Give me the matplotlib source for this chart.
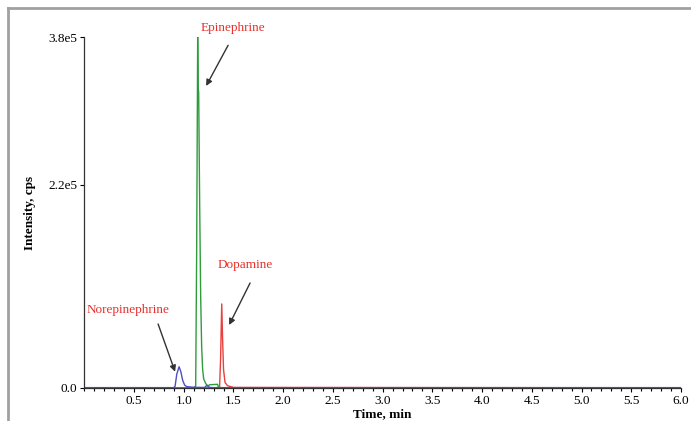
import matplotlib.pyplot as plt
from matplotlib.lines import Line2D
from matplotlib.ticker import MultipleLocator

plt.rcParams['font.family'] = ['Liberation Serif', 'DejaVu Serif']

# retention time (min) / intensity (cps)
epi_t = [0.0, 1.10, 1.12, 1.13, 1.14, 1.145, 1.15, 1.16, 1.17, 1.18, 1.19, 1.20,
         1.22, 1.24, 1.26, 1.34, 1.35, 1.40, 6.0]
epi_i = [300, 300, 2000, 150000, 380000, 325000, 320000, 200000, 100000, 45000,
         20000, 10000, 5000, 2000, 3500, 4000, 500, 300, 300]

dopa_t = [0.0, 1.36, 1.37, 1.382, 1.39, 1.40, 1.415, 1.44, 1.50, 4.0, 6.0]
dopa_i = [300, 300, 30000, 91000, 55000, 20000, 6000, 2500, 600, 400, 300]

nor_t = [0.0, 0.90, 0.913, 0.93, 0.953, 0.97, 0.99, 1.01, 1.03, 1.10, 1.21,
         1.235, 1.26, 1.30, 6.0]
nor_i = [400, 400, 2000, 15000, 23000, 18000, 8000, 3000, 1500, 800, 600,
         3000, 600, 400, 400]

labels = ["Epinephrine", "Dopamine", "Norepinephrine"]
label_xy = [(1.496, 3.90e5), (1.617, 1.33e5), (0.44, 8.44e4)]
arrow_from = [(1.446, 3.71e5), (1.667, 1.137e5), (0.742, 6.93e4)]
arrow_to = [(1.225, 3.27e5), (1.456, 6.82e4), (0.913, 1.76e4)]

yticks = [0, 2.2e5, 3.8e5]
yticklabels = ["0.0", "2.2e5", "3.8e5"]

fig = plt.figure(figsize=(6.91, 4.21), dpi=100)
ax = fig.add_axes([84.3 / 691, 33 / 421, (681 - 84.3) / 691, 351 / 421])

ax.plot(dopa_t, dopa_i, color='#e8403e', lw=1.0)
ax.plot(epi_t, epi_i, color='#2f9c3c', lw=1.0)
ax.plot(nor_t, nor_i, color='#4c4fc4', lw=1.0)

for txt, xy, a0, a1 in zip(labels, label_xy, arrow_from, arrow_to):
    ax.text(xy[0], xy[1], txt, color='#e8302c', fontsize=9.5,
            ha='center', va='center', clip_on=False)
    ax.annotate('', xy=a1, xytext=a0,
                arrowprops=dict(arrowstyle='-|>', color='#333333', lw=1.0,
                                mutation_scale=9, shrinkA=0, shrinkB=0),
                annotation_clip=False)

ax.set_xlim(0, 6.0)
ax.set_ylim(0, 3.8e5)
ax.xaxis.set_minor_locator(MultipleLocator(0.1))
ax.set_xticks([0.5 * k for k in range(1, 13)])
ax.set_xticklabels(["%.1f" % (0.5 * k) for k in range(1, 13)])
ax.set_yticks(yticks)
ax.set_yticklabels(yticklabels)
ax.tick_params(axis='both', labelsize=9.5, length=3, width=0.8, pad=2)
ax.tick_params(axis='x', which='minor', length=2, width=0.8)

for s in ['top', 'right']:
    ax.spines[s].set_visible(False)
for s in ['left', 'bottom']:
    ax.spines[s].set_linewidth(0.9)
    ax.spines[s].set_color('#333333')

ax.set_ylabel("Intensity, cps", fontsize=9.5, fontweight='bold', labelpad=9)
ax.set_xlabel("Time, min", fontsize=9.5, fontweight='bold', labelpad=1)

# grey frame of the original screenshot (top and left edges only)
fig.add_artist(Line2D([8 / 691, 1], [1 - 8 / 421, 1 - 8 / 421],
                      transform=fig.transFigure, color='#a0a0a0', lw=2))
fig.add_artist(Line2D([8 / 691, 8 / 691], [0, 1 - 8 / 421],
                      transform=fig.transFigure, color='#a0a0a0', lw=2))

fig.savefig('out.png', dpi=100)
